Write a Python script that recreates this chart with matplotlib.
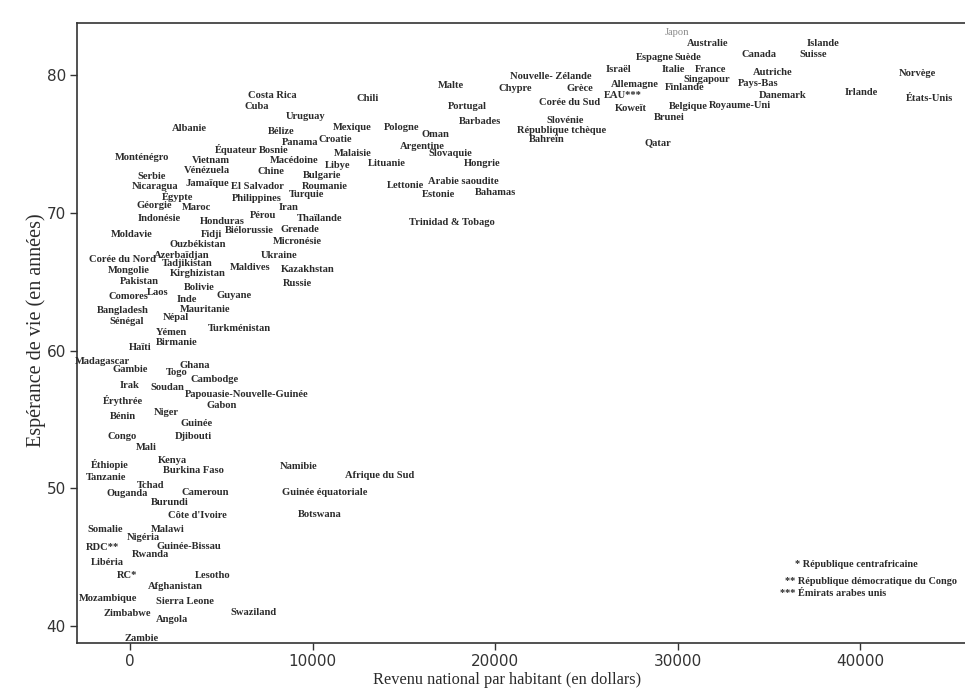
import matplotlib
matplotlib.use("Agg")
import matplotlib.pyplot as plt

countries = [
    "Costa Rica", "Cuba", "Uruguay", "Albanie", "Bélize", "Panama", "Équateur", "Bosnie",
    "Monténégro", "Vietnam", "Macédoine", "Vénézuela", "Chine", "Serbie", "Nicaragua",
    "Jamaïque", "El Salvador", "Égypte", "Philippines", "Géorgie", "Maroc", "Iran",
    "Indonésie", "Honduras", "Pérou", "Biélorussie", "Moldavie", "Fidji", "Grenade",
    "Ouzbékistan", "Micronésie", "Thaïlande", "Turquie", "Roumanie", "Bulgarie",
    "Chili", "Mexique", "Croatie", "Malaisie", "Libye", "Lituanie", "Pologne", "Oman",
    "Argentine", "Slovaquie", "Hongrie", "Lettonie", "Arabie saoudite", "Estonie",
    "Bahamas", "Trinidad & Tobago", "Malte", "Portugal", "Barbades", "Chypre",
    "Nouvelle- Zélande", "Grèce", "Corée du Sud", "Slovénie", "République tchèque",
    "Bahreïn", "Japon", "Australie", "Espagne", "Suède", "Canada", "Israël", "Italie",
    "France", "Autriche", "Singapour", "Allemagne", "Finlande", "Pays-Bas", "EAU***",
    "Koweït", "Belgique", "Royaume-Uni", "Brunei", "Qatar", "Danemark", "Islande",
    "Suisse", "Norvège", "Irlande", "États-Unis",
    "Corée du Nord", "Azerbaïdjan", "Ukraine", "Tadjikistan", "Mongolie", "Kirghizistan",
    "Maldives", "Kazakhstan", "Russie", "Pakistan", "Bolivie", "Comores", "Laos", "Inde",
    "Guyane", "Bangladesh", "Mauritanie", "Sénégal", "Népal", "Yémen", "Turkménistan",
    "Birmanie", "Haïti", "Madagascar", "Gambie", "Ghana", "Togo", "Cambodge", "Irak",
    "Soudan", "Papouasie-Nouvelle-Guinée", "Érythrée", "Gabon",
    "Bénin", "Niger", "Guinée", "Congo", "Djibouti", "Mali", "Kenya", "Éthiopie",
    "Burkina Faso", "Tanzanie", "Tchad", "Ouganda", "Cameroun", "Burundi",
    "Côte d'Ivoire", "Somalie", "Malawi", "Nigéria", "RDC**", "Guinée-Bissau", "Rwanda",
    "Libéria", "RC*", "Lesotho", "Afghanistan", "Mozambique", "Sierra Leone", "Zimbabwe",
    "Angola", "Swaziland", "Zambie",
    "Namibie", "Afrique du Sud", "Guinée équatoriale", "Botswana",
]

income = [
    7780, 6960, 9640, 3230, 8270, 9310, 5810, 7890,
    660, 4440, 8990, 4220, 7730, 1210, 1370,
    4220, 7010, 2580, 6960, 1320, 3670, 8710,
    1590, 5040, 7290, 6520, 110, 4440, 9310,
    3730, 9150, 10410, 9700, 10680, 10520,
    13040, 12160, 11230, 12220, 11400, 14080, 14900, 16710,
    16000, 17530, 19290, 15070, 18250, 16880,
    20050, 17640, 17590, 18460, 19180, 21090,
    23070, 24660, 24110, 23830, 23670,
    22850, 29970, 31670, 28770, 30570, 34460, 26740, 29750,
    31830, 35230, 31610, 27670, 30410, 34410, 27010,
    27450, 30570, 33420, 29530, 28930, 35780, 37970,
    37420, 43120, 40050, 43830,
    -440, 2850, 8160, 3120, -60, 3730,
    6580, 9750, 9150, 490, 3780, -110, 1530, 3120,
    5700, -380, 4110, -160, 2520, 2250, 5970,
    2580, 550, -1530, 0, 3560, 2580, 4660, 0,
    2030, 6410, -380, 5040,
    -380, 1970, 3620, -440, 3450, 880, 2300, -1100,
    3450, -1320, 1150, -160, 4110, 2190,
    3670, -1370, 2080, 710, -1480, 3230, 1150,
    -1260, -160, 4550, 2470, -1210, 3010, -160,
    2300, 6790, 660,
    9210, 13700, 10680, 10410,
]

life_exp = [
    78.5, 77.7, 77.0, 76.1, 75.9, 75.1, 74.6, 74.5,
    74.0, 73.8, 73.8, 73.1, 73.0, 72.6, 71.9,
    72.1, 71.9, 71.2, 71.0, 70.5, 70.4, 70.4,
    69.6, 69.4, 69.8, 68.7, 68.4, 68.4, 68.8,
    67.7, 67.9, 69.6, 71.3, 71.9, 72.7,
    78.3, 76.2, 75.3, 74.3, 73.4, 73.6, 76.2, 75.7,
    74.8, 74.3, 73.6, 72.0, 72.3, 71.3,
    71.5, 69.3, 79.2, 77.7, 76.6, 79.0,
    79.9, 79.0, 78.0, 76.7, 76.0,
    75.3, 83.1, 82.3, 81.3, 81.3, 81.5, 80.4, 80.4,
    80.4, 80.2, 79.7, 79.3, 79.1, 79.4, 78.5,
    77.6, 77.7, 77.8, 76.9, 75.1, 78.5, 82.3,
    81.5, 80.1, 78.7, 78.3,
    66.6, 66.9, 66.9, 66.3, 65.8, 65.6,
    66.0, 65.9, 64.9, 65.0, 64.6, 63.9, 64.2, 63.7,
    64.0, 62.9, 63.0, 62.1, 62.4, 61.3, 61.6,
    60.6, 60.2, 59.2, 58.6, 58.9, 58.4, 57.9, 57.5,
    57.3, 56.8, 56.4, 56.0,
    55.2, 55.5, 54.7, 53.8, 53.8, 53.0, 52.0, 51.7,
    51.3, 50.8, 50.2, 49.6, 49.7, 49.0,
    48.0, 47.0, 47.0, 46.4, 45.7, 45.8, 45.2,
    44.6, 43.7, 43.7, 42.9, 42.0, 41.8, 40.9,
    40.5, 41.0, 39.1,
    51.6, 50.9, 49.7, 48.1,
]

footnotes = [
    "* République centrafricaine",
    "** République démocratique du Congo",
    "*** Émirats arabes unis",
]

x_ticks = [0, 10000, 20000, 30000, 40000]
y_ticks = [40, 50, 60, 70, 80]

fig = plt.figure(figsize=(9.65, 6.89), dpi=100)
ax = fig.add_axes([77 / 965, 1 - 643 / 689, 888 / 965, 620 / 689])
ax.set_xlim(-2904, 45753)
ax.set_ylim(38.78, 83.77)

serif = ["Liberation Serif", "DejaVu Serif"]
for name, xv, yv in zip(countries, income, life_exp):
    col = "#8a8a8a" if name == "Japon" else "#2b2b2b"
    wt = "normal" if name == "Japon" else "bold"
    ax.text(xv, yv, name, ha="center", va="center", fontsize=7.6,
            family=serif, fontweight=wt, color=col)

foot_pos = [(0.8086, 0.1274), (0.797, 0.100), (0.7917, 0.0806)]
for txt, (fx, fy) in zip(footnotes, foot_pos):
    ax.text(fx, fy, txt, transform=ax.transAxes, ha="left", va="center",
            fontsize=7.4, family=serif, fontweight="bold", color="#2b2b2b")

ax.set_xticks(x_ticks)
ax.set_yticks(y_ticks)
ax.set_xticklabels([str(v) for v in x_ticks])
ax.set_yticklabels([str(v) for v in y_ticks])
ax.tick_params(direction="out", length=5, width=1, color="#333333",
               labelsize=11, labelcolor="#333333", pad=3)
for lab in ax.get_xticklabels() + ax.get_yticklabels():
    lab.set_family("DejaVu Sans")

for side in ["left", "bottom", "top"]:
    ax.spines[side].set_color("#333333")
    ax.spines[side].set_linewidth(1.2)
ax.spines["right"].set_visible(False)

fig.text(507 / 965, 1 - 680 / 689, "Revenu national par habitant (en dollars)",
         ha="center", va="center", fontsize=11.8, family=serif, color="#2b2b2b")
fig.text(36 / 965, 1 - 330 / 689, "Espérance de vie (en années)", rotation=90,
         ha="center", va="center", fontsize=14.5, family=serif, color="#2b2b2b")

fig.savefig("out.png", dpi=100, facecolor="white")
